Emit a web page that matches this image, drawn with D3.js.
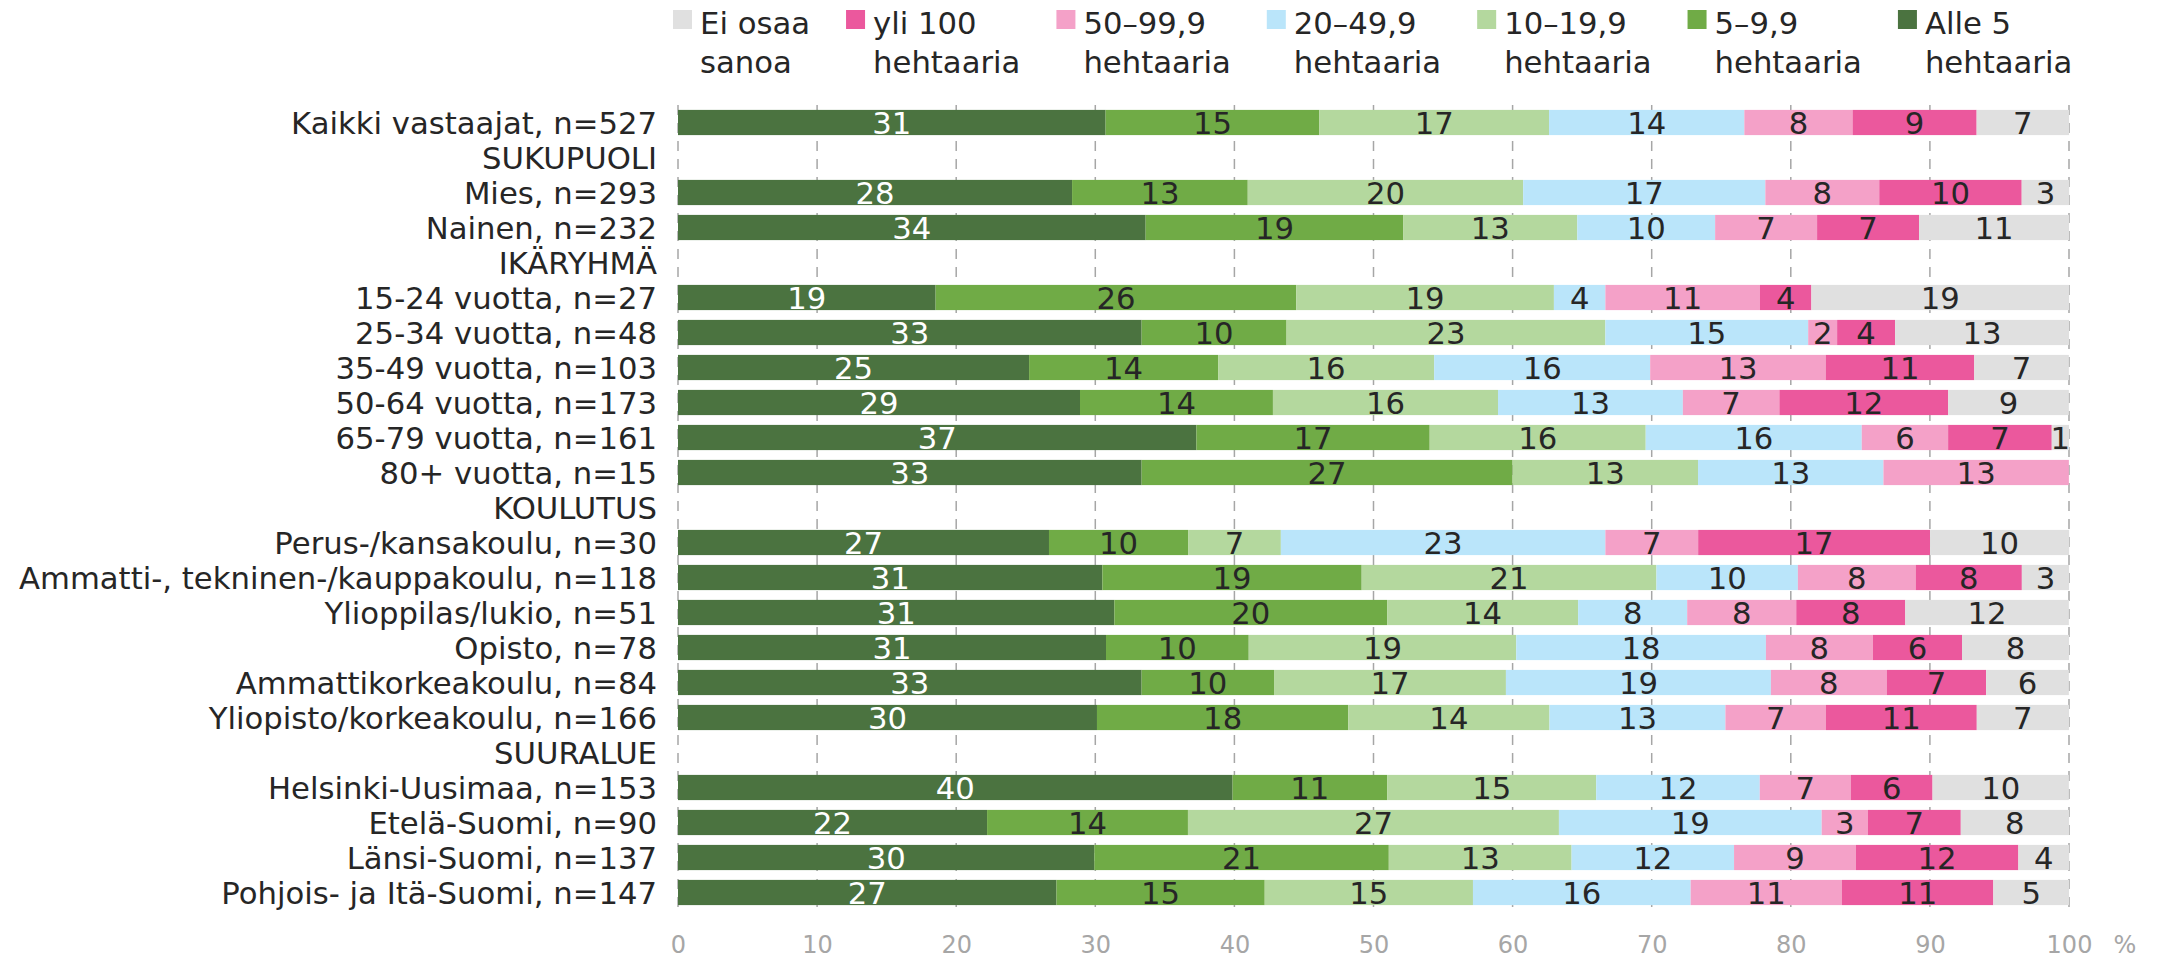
<!DOCTYPE html>
<html>
<head>
<meta charset="utf-8">
<script src="https://cdn.jsdelivr.net/npm/d3@7"></script>
<style>
  body { margin: 0; background: #fff; }
  svg { display: block; font-family: 'DejaVu Sans', sans-serif; }
</style>
</head>
<body>
<div id="chart"></div>
<script>
const categories = [
  'Kaikki vastaajat, n=527', 'SUKUPUOLI', 'Mies, n=293', 'Nainen, n=232',
  'IKÄRYHMÄ', '15-24 vuotta, n=27', '25-34 vuotta, n=48', '35-49 vuotta, n=103',
  '50-64 vuotta, n=173', '65-79 vuotta, n=161', '80+ vuotta, n=15', 'KOULUTUS',
  'Perus-/kansakoulu, n=30', 'Ammatti-, tekninen-/kauppakoulu, n=118',
  'Ylioppilas/lukio, n=51', 'Opisto, n=78', 'Ammattikorkeakoulu, n=84',
  'Yliopisto/korkeakoulu, n=166', 'SUURALUE', 'Helsinki-Uusimaa, n=153',
  'Etelä-Suomi, n=90', 'Länsi-Suomi, n=137', 'Pohjois- ja Itä-Suomi, n=147'
];

const alle5 = [30.74, null, 28.33, 33.62, null, 18.52, 33.33, 25.24, 28.90, 37.27, 33.33, null, 26.67, 30.51, 31.37, 30.77, 33.33, 30.12, null, 39.87, 22.22, 29.93, 27.21];
const ha5to10 = [15.37, null, 12.63, 18.53, null, 25.93, 10.42, 13.59, 13.87, 16.77, 26.67, null, 10.00, 18.64, 19.61, 10.26, 9.52, 18.07, null, 11.11, 14.44, 21.17, 14.97];
const ha10to20 = [16.51, null, 19.80, 12.50, null, 18.52, 22.92, 15.53, 16.18, 15.53, 13.33, null, 6.67, 21.19, 13.73, 19.23, 16.67, 14.46, null, 15.03, 26.67, 13.14, 14.97];
const ha20to50 = [14.04, null, 17.41, 9.91, null, 3.70, 14.58, 15.53, 13.29, 15.53, 13.33, null, 23.33, 10.17, 7.84, 17.95, 19.05, 12.65, null, 11.76, 18.89, 11.68, 15.65];
const ha50to100 = [7.78, null, 8.19, 7.33, null, 11.11, 2.08, 12.62, 6.94, 6.21, 13.33, null, 6.67, 8.47, 7.84, 7.69, 8.33, 7.23, null, 6.54, 3.33, 8.76, 10.88];
const yli100 = [8.92, null, 10.24, 7.33, null, 3.70, 4.17, 10.68, 12.14, 7.45, 0, null, 16.67, 7.63, 7.84, 6.41, 7.14, 10.84, null, 5.88, 6.67, 11.68, 10.88];
const eiOsaa = [6.64, null, 3.41, 10.78, null, 18.52, 12.50, 6.80, 8.67, 1.24, 0, null, 10.00, 3.39, 11.76, 7.69, 5.95, 6.63, null, 9.80, 7.78, 3.65, 5.44];

// stack order left -> right
const seriesKeys = ['alle5', 'ha5to10', 'ha10to20', 'ha20to50', 'ha50to100', 'yli100', 'eiOsaa'];
const seriesValues = [alle5, ha5to10, ha10to20, ha20to50, ha50to100, yli100, eiOsaa];
const seriesColors = ['#4b7340', '#70ab46', '#b4d89e', '#bae5fa', '#f4a1c8', '#eb589d', '#e0e0e0'];
const seriesText = ['#ffffff', '#262626', '#262626', '#262626', '#262626', '#262626', '#262626'];

// legend order left -> right
const legendKeys = ['eiOsaa', 'yli100', 'ha50to100', 'ha20to50', 'ha10to20', 'ha5to10', 'alle5'];
const legendLines = [
  ['Ei osaa', 'sanoa'], ['yli 100', 'hehtaaria'], ['50–99,9', 'hehtaaria'],
  ['20–49,9', 'hehtaaria'], ['10–19,9', 'hehtaaria'], ['5–9,9', 'hehtaaria'],
  ['Alle 5', 'hehtaaria']
];

const xTicks = [0, 10, 20, 30, 40, 50, 60, 70, 80, 90, 100];

const W = 2157, H = 958;
const margin = { top: 105, right: 88, bottom: 48, left: 678 };
const width = W - margin.left - margin.right;
const height = H - margin.top - margin.bottom;
const fontSize = '30.7px';

const rows = categories.map((c, i) => {
  const r = { category: c, header: alle5[i] === null };
  seriesKeys.forEach((k, j) => { r[k] = seriesValues[j][i] || 0; });
  return r;
});

const svg = d3.select('#chart').append('svg')
  .attr('width', W)
  .attr('height', H);

const g = svg.append('g')
  .attr('transform', `translate(${margin.left},${margin.top})`);

const x = d3.scaleLinear().domain([0, 100]).range([0, width]);
const y = d3.scaleBand().domain(categories).range([0, height])
  .paddingInner(0.28).paddingOuter(0.14);
const color = d3.scaleOrdinal().domain(seriesKeys).range(seriesColors);
const textColor = d3.scaleOrdinal().domain(seriesKeys).range(seriesText);

// dashed vertical grid
g.append('g')
  .attr('class', 'grid')
  .selectAll('line')
  .data(xTicks)
  .enter()
  .append('line')
  .attr('x1', d => x(d))
  .attr('x2', d => x(d))
  .attr('y1', 0)
  .attr('y2', height)
  .style('stroke', '#a6a6a6')
  .style('stroke-width', 1.5)
  .style('stroke-dasharray', '10,8');

const stacked = d3.stack().keys(seriesKeys)(rows);

const layers = g.selectAll('.layer')
  .data(stacked)
  .enter()
  .append('g')
  .attr('class', 'layer')
  .style('fill', d => color(d.key));

layers.selectAll('rect')
  .data(d => d.filter(s => !s.data.header && s[1] - s[0] > 0))
  .enter()
  .append('rect')
  .attr('x', d => x(d[0]))
  .attr('y', d => y(d.data.category))
  .attr('width', d => x(d[1]) - x(d[0]))
  .attr('height', y.bandwidth());

// value labels
stacked.forEach(layer => {
  g.append('g')
    .selectAll('text')
    .data(layer.filter(s => !s.data.header && s[1] - s[0] > 0))
    .enter()
    .append('text')
    .attr('x', d => x((d[0] + d[1]) / 2))
    .attr('y', d => y(d.data.category) + y.bandwidth() / 2)
    .attr('dy', '0.36em')
    .attr('text-anchor', 'middle')
    .style('font-size', fontSize)
    .style('fill', textColor(layer.key))
    .text(d => Math.round(d[1] - d[0]));
});

// category axis
const yAxis = g.append('g')
  .attr('class', 'y-axis')
  .call(d3.axisLeft(y).tickSize(0).tickPadding(21));
yAxis.select('.domain').remove();
yAxis.selectAll('text')
  .attr('dy', '0.36em')
  .style('font-family', "'DejaVu Sans', sans-serif")
  .style('font-size', fontSize)
  .style('fill', '#262626');

// value axis
const xAxis = g.append('g')
  .attr('class', 'x-axis')
  .attr('transform', `translate(0,${height})`)
  .call(d3.axisBottom(x).tickValues(xTicks).tickSize(0).tickPadding(26));
xAxis.select('.domain').remove();
xAxis.selectAll('text')
  .style('font-family', "'DejaVu Sans', sans-serif")
  .style('font-size', '24px')
  .style('fill', '#a6a6a6');

g.append('text')
  .attr('x', x(100) + 56)
  .attr('y', height + 26)
  .attr('dy', '0.71em')
  .attr('text-anchor', 'middle')
  .style('font-size', '24px')
  .style('fill', '#a6a6a6')
  .text('%');

// legend, items laid out left to right by their widest line
const legend = svg.append('g').attr('class', 'legend');
let lx = 673;
legendKeys.forEach((k, i) => {
  const item = legend.append('g').attr('transform', `translate(${lx},0)`);
  item.append('rect')
    .attr('x', 0)
    .attr('y', 10)
    .attr('width', 19)
    .attr('height', 19)
    .style('fill', color(k));
  const t = item.append('text')
    .style('font-size', fontSize)
    .style('fill', '#262626');
  legendLines[i].forEach((line, li) => {
    t.append('tspan')
      .attr('x', 27)
      .attr('y', 34 + li * 38.5)
      .text(line);
  });
  const widest = d3.max(t.selectAll('tspan').nodes(), n => n.getComputedTextLength());
  lx += 27 + widest + 36;
});
</script>
</body>
</html>
